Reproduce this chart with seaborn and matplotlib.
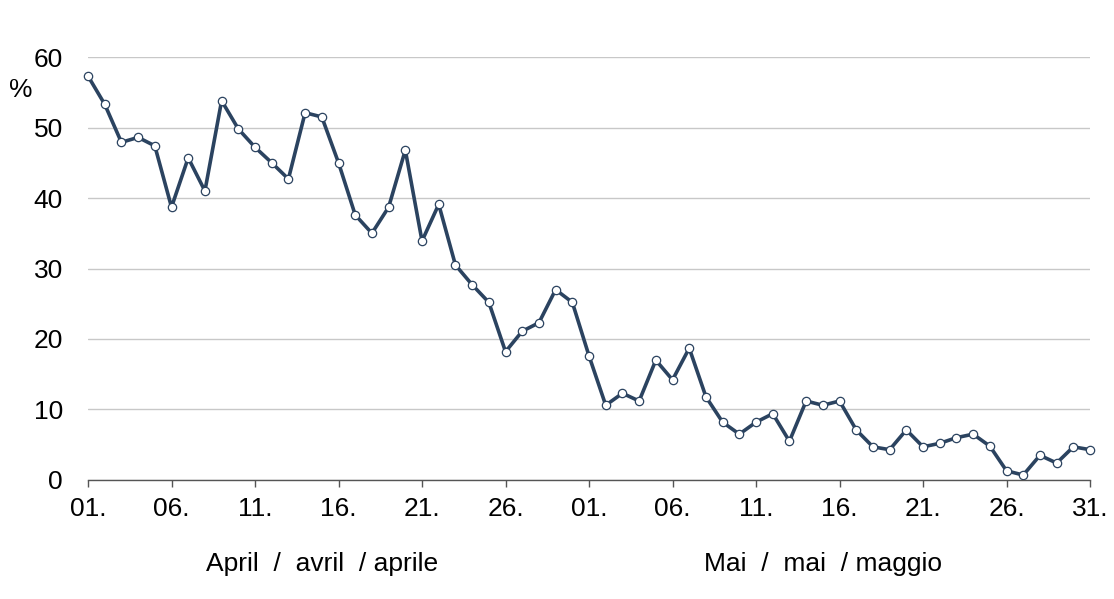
import numpy as np
import pandas as pd
import matplotlib.pyplot as plt
import seaborn as sns

# Daily share in percent, 1 April .. 31 May
april = [57.3, 53.3, 47.9, 48.6, 47.4, 38.7, 45.7, 41.0, 53.8, 49.8,
         47.2, 45.0, 42.7, 52.1, 51.5, 45.0, 37.6, 35.0, 38.7, 46.8,
         33.9, 39.1, 30.5, 27.7, 25.2, 18.2, 21.1, 22.3, 27.0, 25.2]
may = [17.6, 10.6, 12.3, 11.2, 17.0, 14.2, 18.7, 11.8, 8.2, 6.5,
       8.2, 9.4, 5.5, 11.2, 10.6, 11.2, 7.1, 4.7, 4.3, 7.1,
       4.7, 5.2, 6.0, 6.5, 4.8, 1.3, 0.7, 3.5, 2.4, 4.7, 4.3]
tick_labels = ["01.", "06.", "11.", "16.", "21.", "26.",
               "01.", "06.", "11.", "16.", "21.", "26.", "31."]
month_labels = ["April  /  avril  / aprile", "Mai  /  mai  / maggio"]

values = april + may
df = pd.DataFrame({"day": np.arange(len(values)), "pct": values})

sns.set_style("white")
plt.rcParams['font.family'] = ['Liberation Sans', 'DejaVu Sans']
plt.rcParams['text.color'] = 'black'
plt.rcParams['xtick.labelcolor'] = 'black'
plt.rcParams['ytick.labelcolor'] = 'black'

fig = plt.figure(figsize=(11.14, 5.99), dpi=100)
ax = fig.add_axes([0.079, 0.1987, 0.8995, 0.7061])

line_color = "#2b4360"
sns.lineplot(data=df, x="day", y="pct", ax=ax, color=line_color, linewidth=2.6,
             marker="o", markersize=6, markerfacecolor="white",
             markeredgecolor=line_color, markeredgewidth=0.9, clip_on=False)

fs = 19
ax.set_xlim(0, len(values) - 1)
ax.set_ylim(0, 60)
ax.set_yticks(range(0, 61, 10))
ax.set_xticks(range(0, len(values), 5))
ax.set_xticklabels(tick_labels)
ax.tick_params(axis="y", length=0, labelsize=fs, pad=18)
ax.tick_params(axis="x", length=5, width=1, color="#555555", labelsize=fs,
               direction="out", pad=7, bottom=True)
ax.yaxis.grid(True, color="#c8c8c8", linewidth=1)
ax.set_axisbelow(True)
for side in ["left", "right", "top"]:
    ax.spines[side].set_visible(False)
ax.spines["bottom"].set_color("#555555")
ax.spines["bottom"].set_linewidth(1)
ax.set_xlabel("")
ax.set_ylabel("")

ax.text(-4.05, 55.3, "%", fontsize=fs, ha="center", va="center")
ax.text(14, -11.9, month_labels[0], fontsize=fs, ha="center", va="center")
ax.text(44, -11.9, month_labels[1], fontsize=fs, ha="center", va="center")

fig.savefig("out.png", dpi=100)
